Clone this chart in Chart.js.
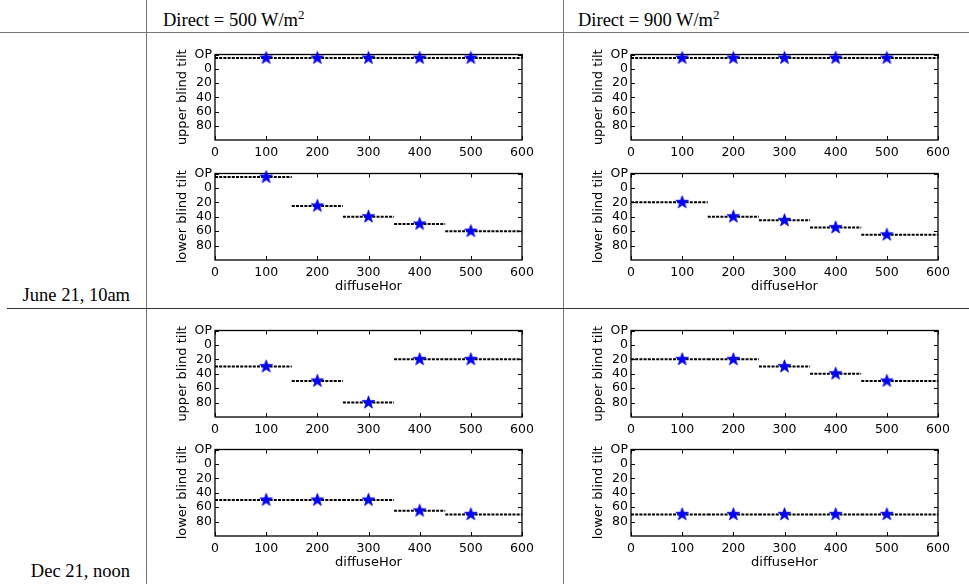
<!DOCTYPE html>
<html>
<head>
<meta charset="utf-8">
<title>Blind tilt vs diffuse horizontal</title>
<script src="https://cdn.jsdelivr.net/npm/chart.js@4.4.1/dist/chart.umd.min.js"></script>
<style>
  body { margin: 0; background: #fff; }
  #page { position: relative; width: 969px; height: 584px; overflow: hidden;
          font-family: "Liberation Serif", "Times New Roman", serif; color: #000; }
  .rule { position: absolute; background: #777; }
  .head, .row { position: absolute; font-size: 18.5px; line-height: 18.5px; white-space: nowrap; }
  .row { left: 0; width: 130px; text-align: right; }
  .head sup { font-size: 13px; vertical-align: baseline; position: relative; top: -7px; }
  canvas { position: absolute; }
</style>
</head>
<body>
<div id="page">
  <!-- table rules -->
  <div class="rule" style="left:146px; top:0; width:1px; height:584px;"></div>
  <div class="rule" style="left:563px; top:0; width:1px; height:584px;"></div>
  <div class="rule" style="left:0; top:32px; width:969px; height:1px;"></div>
  <div class="rule" style="left:7px; top:308px; width:962px; height:1px; background:#333;"></div>

  <div class="head" style="left:163px; top:11px;">Direct = 500 W/m<sup>2</sup></div>
  <div class="head" style="left:578px; top:11px;">Direct = 900 W/m<sup>2</sup></div>
  <div class="row" style="top:286px;">June 21, 10am</div>
  <div class="row" style="top:562px;">Dec 21, noon</div>

  <canvas id="juneUpper500"></canvas>
  <canvas id="juneLower500"></canvas>
  <canvas id="juneUpper900"></canvas>
  <canvas id="juneLower900"></canvas>
  <canvas id="decUpper500"></canvas>
  <canvas id="decLower500"></canvas>
  <canvas id="decUpper900"></canvas>
  <canvas id="decLower900"></canvas>
</div>

<script>
// diffuse horizontal irradiance of each simulated case, and the bands each setting covers
const diffuseHor = [100, 200, 300, 400, 500];
const bandEdges = [0, 150, 250, 350, 450, 600];

// y axis: tilt in degrees, "OP" = blind raised (open)
const yTickValues = [-20, 0, 20, 40, 60, 80];
const yTickLabels = ['OP', '0', '20', '40', '60', '80'];
const OP = -15;

// June 21, 10am
const juneDirect500Upper = [OP, OP, OP, OP, OP];
const juneDirect500Lower = [OP, 25, 40, 50, 60];
const juneDirect900Upper = [OP, OP, OP, OP, OP];
const juneDirect900Lower = [20, 40, 45, 55, 65];

// Dec 21, noon
const decDirect500Upper = [30, 50, 80, 20, 20];
const decDirect500Lower = [50, 50, 50, 65, 70];
const decDirect900Upper = [20, 20, 30, 40, 50];
const decDirect900Lower = [70, 70, 70, 70, 70];

const FONT = "'DejaVu Sans', Verdana, sans-serif";
const PLOT_W = 307;
const Y_AXIS_W = 57;
const PAD_TOP = 8;
const PAD_RIGHT = 22;

// filled five-point star, like matplotlib's '*' marker
function starMarker(r) {
  const size = Math.ceil(r * 2 + 3);
  const c = document.createElement('canvas');
  c.width = c.height = size;
  const g = c.getContext('2d');
  g.translate(size / 2, size / 2);
  g.beginPath();
  for (let i = 0; i < 10; i++) {
    const rad = i % 2 ? r * 0.4 : r;
    const a = -Math.PI / 2 + i * Math.PI / 5;
    g.lineTo(rad * Math.cos(a), rad * Math.sin(a));
  }
  g.closePath();
  g.fillStyle = '#0000ff';
  g.fill();
  g.strokeStyle = '#0000d0';
  g.lineWidth = 0.8;
  g.stroke();
  return c;
}
const star = starMarker(6.7);

// one flat segment per setting, broken between bands
function bandSegments(values) {
  const pts = [];
  values.forEach((v, i) => {
    pts.push({ x: bandEdges[i], y: v }, { x: bandEdges[i + 1], y: v }, { x: bandEdges[i + 1], y: null });
  });
  return pts;
}

// box around the axes with inward ticks on all four sides
const frameTicks = {
  id: 'frameTicks',
  beforeDatasetsDraw(chart) {
    const { ctx, chartArea: a, scales: { x, y } } = chart;
    ctx.save();
    ctx.strokeStyle = '#000';
    ctx.lineWidth = 1;
    ctx.beginPath();
    x.ticks.forEach(t => {
      const px = Math.round(x.getPixelForValue(t.value)) + 0.5;
      ctx.moveTo(px, a.top); ctx.lineTo(px, a.top + 4);
      ctx.moveTo(px, a.bottom); ctx.lineTo(px, a.bottom - 4);
    });
    y.ticks.forEach(t => {
      const py = Math.round(y.getPixelForValue(t.value)) + 0.5;
      ctx.moveTo(a.left, py); ctx.lineTo(a.left + 4, py);
      ctx.moveTo(a.right, py); ctx.lineTo(a.right - 4, py);
    });
    ctx.stroke();
    ctx.lineWidth = 1.3;
    ctx.strokeRect(a.left, a.top, a.width, a.height);
    ctx.restore();
  }
};

function makePanel(id, values, yTitle, withXTitle, plotLeft, plotTop, plotH) {
  const xAxisH = withXTitle ? 36 : 20;
  const canvas = document.getElementById(id);
  canvas.width = PLOT_W + Y_AXIS_W + PAD_RIGHT;
  canvas.height = plotH + PAD_TOP + xAxisH;
  canvas.style.left = (plotLeft - Y_AXIS_W) + 'px';
  canvas.style.top = (plotTop - PAD_TOP) + 'px';

  return new Chart(canvas, {
    type: 'line',
    data: {
      datasets: [{
        data: diffuseHor.map((d, i) => ({ x: d, y: values[i] })),
        showLine: false,
        pointStyle: star,
        pointRadius: 7,
        clip: false
      }, {
        data: bandSegments(values),
        borderColor: '#000',
        borderWidth: 2,
        borderDash: [3, 1.2],
        pointRadius: 0,
        spanGaps: false,
        tension: 0
      }]
    },
    options: {
      responsive: false,
      animation: false,
      events: [],
      layout: { padding: { top: PAD_TOP, right: PAD_RIGHT, left: 0, bottom: 0 } },
      plugins: { legend: { display: false }, tooltip: { enabled: false } },
      scales: {
        x: {
          type: 'linear',
          min: 0,
          max: 600,
          grid: { display: false, drawTicks: false },
          border: { display: false },
          ticks: { stepSize: 100, maxRotation: 0, padding: 5, color: '#000', font: { family: FONT, size: 12.5 } },
          title: {
            display: withXTitle,
            text: 'diffuseHor',
            color: '#000',
            font: { family: FONT, size: 13 },
            padding: { top: 0, bottom: 1.2 }
          },
          afterFit(s) { s.height = xAxisH; }
        },
        y: {
          type: 'linear',
          reverse: true,
          min: -20,
          max: 100,
          grid: { display: false, drawTicks: false },
          border: { display: false },
          afterBuildTicks(s) { s.ticks = yTickValues.map(v => ({ value: v })); },
          ticks: {
            autoSkip: false,
            padding: 3,
            color: '#000',
            font: { family: FONT, size: 12.5 },
            callback: (v, i) => yTickLabels[i]
          },
          title: {
            display: true,
            text: yTitle,
            color: '#000',
            font: { family: FONT, size: 13 },
            padding: { top: 17.2, bottom: 0 }
          },
          afterFit(s) { s.width = Y_AXIS_W; }
        }
      }
    },
    plugins: [frameTicks]
  });
}

makePanel('juneUpper500', juneDirect500Upper, 'upper blind tilt', false, 215, 52, 88);
makePanel('juneLower500', juneDirect500Lower, 'lower blind tilt', true, 215, 171, 89);
makePanel('juneUpper900', juneDirect900Upper, 'upper blind tilt', false, 631, 52, 88);
makePanel('juneLower900', juneDirect900Lower, 'lower blind tilt', true, 631, 171, 89);
makePanel('decUpper500', decDirect500Upper, 'upper blind tilt', false, 215, 328, 89);
makePanel('decLower500', decDirect500Lower, 'lower blind tilt', true, 215, 447, 89);
makePanel('decUpper900', decDirect900Upper, 'upper blind tilt', false, 631, 328, 89);
makePanel('decLower900', decDirect900Lower, 'lower blind tilt', true, 631, 447, 89);
</script>
</body>
</html>
